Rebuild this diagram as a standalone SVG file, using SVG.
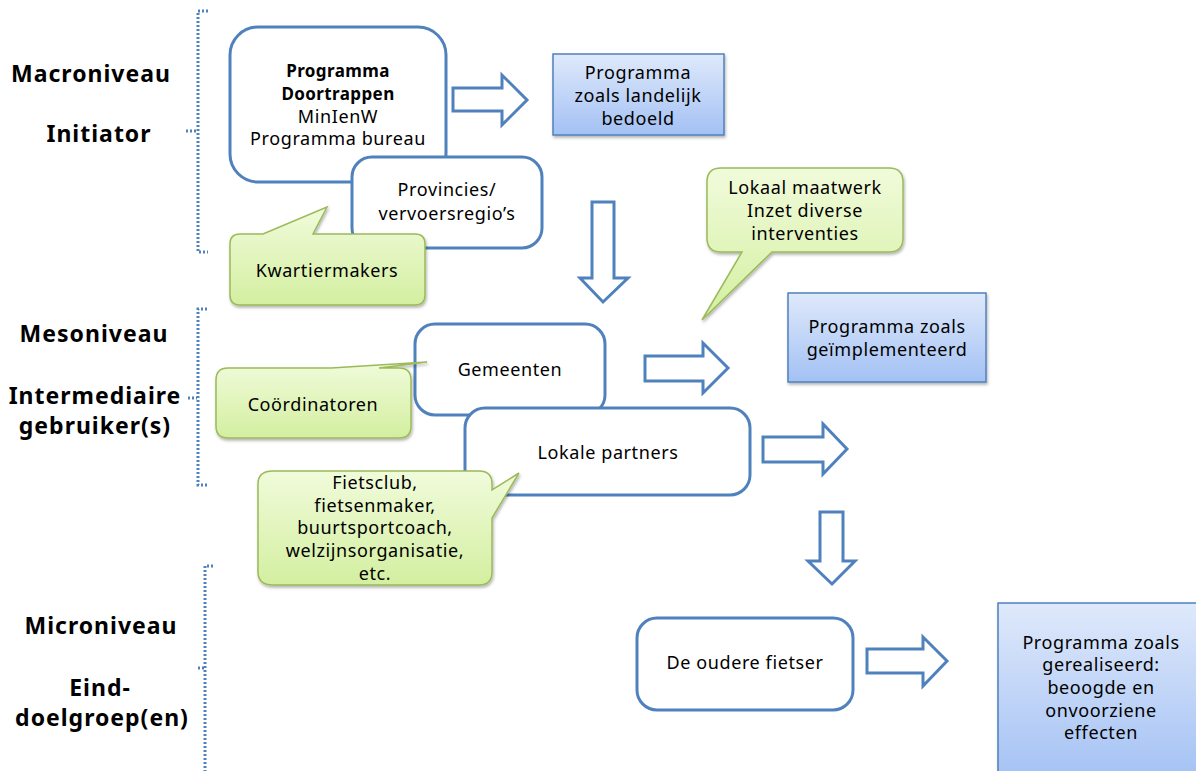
<svg xmlns="http://www.w3.org/2000/svg" width="1196" height="771" viewBox="0 0 1196 771">
<style>
.lvl{font-family:"Noto Sans","Liberation Sans",sans-serif;font-weight:bold;font-size:23px;letter-spacing:1px;fill:#000;text-anchor:middle}
.t{font-family:"Noto Sans","Liberation Sans",sans-serif;font-size:18px;letter-spacing:0.6px;fill:#000;text-anchor:middle}
.b{font-weight:bold;font-size:17px;letter-spacing:0.4px}
.node{fill:#fff;stroke:#4f81bd;stroke-width:3}
.arrow{fill:#fff;stroke:#4f81bd;stroke-width:3;stroke-linejoin:miter}
.brk{fill:none;stroke:#4f81bd;stroke-width:3;stroke-dasharray:2 2}
.green{fill:url(#gg);stroke:#9bbb59;stroke-width:1.5;filter:url(#sh)}
.blue{fill:url(#bg);stroke:#4f81bd;stroke-width:1.5;filter:url(#sh)}
</style>
<defs>
<linearGradient id="gg" x1="0" y1="0" x2="0" y2="1"><stop offset="0" stop-color="#f1fbdb"/><stop offset="1" stop-color="#d3efa0"/></linearGradient>
<linearGradient id="bg" x1="0" y1="0" x2="0" y2="1"><stop offset="0" stop-color="#dfe9fb"/><stop offset="1" stop-color="#a3c1f4"/></linearGradient>
<filter id="sh" x="-10%" y="-10%" width="130%" height="130%"><feDropShadow dx="1" dy="2" stdDeviation="1.5" flood-color="#000" flood-opacity="0.3"/></filter>
</defs>
<rect width="1196" height="771" fill="#fff"/>

<g id="levels">
<text class="lvl" x="91" y="82">Macroniveau</text>
<text class="lvl" x="99" y="142">Initiator</text>
<text class="lvl" x="94" y="342">Mesoniveau</text>
<text class="lvl" x="95" y="404">Intermediaire</text>
<text class="lvl" x="95" y="434">gebruiker(s)</text>
<text class="lvl" x="101" y="634">Microniveau</text>
<text class="lvl" x="100" y="696">Eind-</text>
<text class="lvl" x="102" y="726">doelgroep(en)</text>
</g>

<g id="brackets">
<path class="brk" d="M208,11 H198 V252 H208 M186,131 H197"/>
<path class="brk" d="M207,309 H198 V485 H208 M188,398 H197"/>
<path class="brk" d="M213,566 H205 V771 M198,668 H205"/>
</g>

<g id="connectors">
<path class="arrow" d="M453,88 H502 V75 L527,100 L502,125 V111 H453 Z"/>
<path class="arrow" d="M592,202 H614 V278 H628 L603,302 L580,278 H592 Z"/>
<path class="arrow" d="M645,356 H703 V343 L728,368 L703,393 V381 H645 Z"/>
<path class="arrow" d="M763,437 H823 V424 L847,449 L823,474 V462 H763 Z"/>
<path class="arrow" d="M820,512 H843 V561 H855 L832,584 L808,561 H820 Z"/>
<path class="arrow" d="M867,649 H923 V637 L947,661 L923,686 V673 H867 Z"/>
</g>

<g id="n-programma">
<rect class="node" x="230" y="27" width="216" height="155" rx="28"/>
<text class="t b" x="338" y="77">Programma</text>
<text class="t b" x="338" y="100">Doortrappen</text>
<text class="t" x="338" y="123">MinIenW</text>
<text class="t" x="338" y="145">Programma bureau</text>
</g>

<g id="n-provincies">
<rect class="node" x="352" y="157" width="190" height="91" rx="20"/>
<text class="t" x="447" y="196">Provincies/</text>
<text class="t" x="447" y="220">vervoersregio’s</text>
</g>

<g id="n-kwartiermakers">
<path class="green" d="M240,234 H263 L327,207 L313,234 H415 Q425,234 425,244 V295 Q425,305 415,305 H240 Q230,305 230,295 V244 Q230,234 240,234 Z"/>
<text class="t" x="327" y="277">Kwartiermakers</text>
</g>

<g id="n-landelijk">
<rect class="blue" x="553" y="54" width="171" height="81"/>
<text class="t" x="638" y="79">Programma</text>
<text class="t" x="638" y="102">zoals landelijk</text>
<text class="t" x="638" y="125">bedoeld</text>
</g>

<g id="n-lokaal">
<path class="green" d="M721,168 H889 Q903,168 903,182 V238 Q903,252 889,252 H772 L702,320 L742,252 H721 Q707,252 707,238 V182 Q707,168 721,168 Z"/>
<text class="t" x="805" y="194">Lokaal maatwerk</text>
<text class="t" x="805" y="217">Inzet diverse</text>
<text class="t" x="805" y="240">interventies</text>
</g>

<g id="n-geimplementeerd">
<rect class="blue" x="788" y="293" width="198" height="89"/>
<text class="t" x="887" y="333">Programma zoals</text>
<text class="t" x="887" y="356">geïmplementeerd</text>
</g>

<g id="n-gemeenten">
<rect class="node" x="415" y="324" width="190" height="91" rx="20"/>
<text class="t" x="510" y="376">Gemeenten</text>
</g>

<g id="n-coordinatoren">
<path class="green" d="M228,368 H331 L427,362 L379,368 H399 Q411,368 411,380 V426 Q411,438 399,438 H228 Q216,438 216,426 V380 Q216,368 228,368 Z"/>
<text class="t" x="313" y="411">Coördinatoren</text>
</g>

<g id="n-lokale">
<rect class="node" x="465" y="408" width="285" height="87" rx="20"/>
<text class="t" x="608" y="459">Lokale partners</text>
</g>

<g id="n-fietsclub">
<path class="green" d="M273,471 H479 Q492,471 492,484 V490 L519,473 L492,518 V572 Q492,585 479,585 H273 Q258,585 258,572 V484 Q258,471 273,471 Z"/>
<text class="t" x="375" y="489">Fietsclub,</text>
<text class="t" x="375" y="512">fietsenmaker,</text>
<text class="t" x="375" y="534">buurtsportcoach,</text>
<text class="t" x="375" y="557">welzijnsorganisatie,</text>
<text class="t" x="375" y="580">etc.</text>
</g>

<g id="n-fietser">
<rect class="node" x="637" y="618" width="216" height="92" rx="20"/>
<text class="t" x="745" y="669">De oudere fietser</text>
</g>

<g id="n-gerealiseerd">
<rect class="blue" x="998" y="603" width="210" height="180"/>
<text class="t" x="1101" y="649">Programma zoals</text>
<text class="t" x="1101" y="671">gerealiseerd:</text>
<text class="t" x="1101" y="694">beoogde en</text>
<text class="t" x="1101" y="717">onvoorziene</text>
<text class="t" x="1101" y="739">effecten</text>
</g>
</svg>
